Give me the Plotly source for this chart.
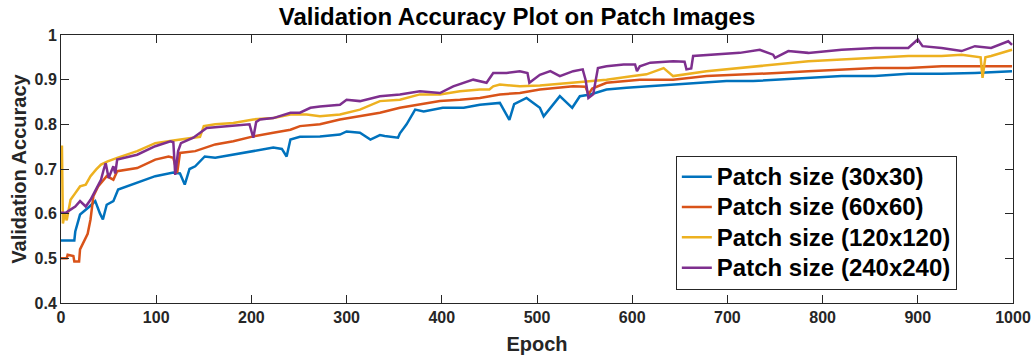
import plotly.graph_objects as go

# ---- data ----
names = ["Patch size (30x30)", "Patch size (60x60)", "Patch size (120x120)", "Patch size (240x240)"]
colors = ["#0072BD", "#D95319", "#EDB120", "#7E2F8E"]

ep_30 = [0, 14, 15, 20, 30, 36, 41, 44, 48, 55, 60, 80, 99, 118, 125, 130, 135, 141, 151, 162, 181, 202, 223, 232, 237,
         241, 251, 272, 293, 300, 314, 325, 335, 340, 354, 356, 363, 372, 381, 401, 423, 440, 461, 471, 476, 489, 503, 507,
         524, 537, 545, 556, 573, 594, 615, 643, 671, 699, 727, 752, 785, 820, 855, 890, 925, 960, 999]
acc_30 = [0.540, 0.540, 0.560, 0.598, 0.616, 0.628, 0.600, 0.587, 0.620, 0.628, 0.654, 0.669, 0.684, 0.692, 0.690, 0.665,
          0.700, 0.706, 0.728, 0.725, 0.732, 0.740, 0.748, 0.745, 0.728, 0.766, 0.772, 0.773, 0.777, 0.784, 0.781, 0.766,
          0.776, 0.774, 0.770, 0.780, 0.800, 0.833, 0.829, 0.837, 0.837, 0.844, 0.848, 0.810, 0.845, 0.859, 0.837, 0.818,
          0.863, 0.837, 0.863, 0.867, 0.878, 0.882, 0.885, 0.889, 0.893, 0.897, 0.897, 0.900, 0.904, 0.908, 0.908, 0.913,
          0.913, 0.915, 0.919]

ep_60 = [0, 6, 7, 13, 14, 19, 20, 25, 28, 31, 34, 39, 45, 48, 55, 59, 80, 99, 113, 118, 122, 125, 141, 162, 181, 202, 223,
         241, 251, 272, 293, 314, 335, 356, 377, 398, 419, 440, 461, 482, 503, 538, 551, 554, 558, 573, 608, 643, 678, 713,
         752, 785, 820, 855, 890, 925, 960, 999]
acc_60 = [0.500, 0.500, 0.508, 0.505, 0.493, 0.493, 0.520, 0.542, 0.555, 0.587, 0.639, 0.661, 0.676, 0.684, 0.676, 0.695,
          0.702, 0.721, 0.728, 0.725, 0.691, 0.736, 0.740, 0.755, 0.762, 0.773, 0.781, 0.788, 0.796, 0.800, 0.811, 0.818,
          0.826, 0.837, 0.844, 0.852, 0.855, 0.859, 0.867, 0.870, 0.878, 0.885, 0.884, 0.867, 0.880, 0.893, 0.900, 0.900,
          0.908, 0.911, 0.915, 0.919, 0.923, 0.926, 0.926, 0.930, 0.930, 0.930]

ep_120 = [0, 1, 2, 4, 6, 10, 15, 20, 26, 31, 37, 42, 49, 59, 80, 99, 118, 139, 146, 150, 162, 181, 202, 223, 241, 258, 272,
          293, 314, 335, 356, 377, 398, 419, 440, 450, 454, 461, 482, 503, 538, 573, 601, 615, 633, 643, 678, 713, 752, 785,
          820, 855, 890, 925, 946, 966, 968, 971, 977, 999]
acc_120 = [0.750, 0.750, 0.578, 0.600, 0.585, 0.631, 0.646, 0.661, 0.665, 0.684, 0.699, 0.710, 0.717, 0.725, 0.740, 0.758,
           0.764, 0.770, 0.772, 0.796, 0.800, 0.803, 0.811, 0.814, 0.822, 0.822, 0.818, 0.822, 0.833, 0.852, 0.855, 0.867,
           0.867, 0.874, 0.878, 0.878, 0.885, 0.889, 0.885, 0.887, 0.893, 0.900, 0.908, 0.912, 0.926, 0.908, 0.919, 0.926,
           0.933, 0.941, 0.945, 0.949, 0.953, 0.953, 0.956, 0.950, 0.904, 0.950, 0.953, 0.967]

ep_240 = [0, 5, 10, 15, 20, 26, 31, 37, 42, 45, 47, 50, 52, 55, 57, 59, 80, 99, 115, 118, 120, 123, 126, 139, 153, 181, 198,
          202, 205, 209, 223, 241, 251, 262, 272, 293, 300, 314, 335, 356, 377, 398, 412, 433, 447, 454, 468, 482, 490, 492,
          503, 514, 524, 538, 548, 551, 554, 559, 562, 564, 573, 591, 603, 605, 608, 619, 643, 655, 657, 662, 664, 685, 713,
          734, 748, 750, 764, 785, 820, 855, 890, 900, 905, 925, 946, 960, 977, 995, 999]
acc_240 = [0.602, 0.602, 0.609, 0.616, 0.628, 0.616, 0.631, 0.654, 0.676, 0.700, 0.713, 0.680, 0.691, 0.706, 0.690, 0.721,
           0.732, 0.751, 0.762, 0.760, 0.687, 0.740, 0.758, 0.770, 0.792, 0.796, 0.800, 0.770, 0.805, 0.811, 0.814, 0.826,
           0.826, 0.837, 0.840, 0.844, 0.855, 0.852, 0.863, 0.867, 0.874, 0.870, 0.885, 0.900, 0.893, 0.915, 0.915, 0.919,
           0.915, 0.893, 0.911, 0.919, 0.908, 0.919, 0.923, 0.900, 0.859, 0.867, 0.900, 0.926, 0.930, 0.934, 0.934, 0.919,
           0.930, 0.938, 0.941, 0.940, 0.923, 0.925, 0.953, 0.956, 0.960, 0.967, 0.956, 0.949, 0.964, 0.960, 0.967, 0.971,
           0.971, 0.990, 0.975, 0.971, 0.964, 0.975, 0.971, 0.986, 0.978]

x_ticks = [0, 100, 200, 300, 400, 500, 600, 700, 800, 900, 1000]
y_ticks = [0.4, 0.5, 0.6, 0.7, 0.8, 0.9, 1.0]
y_tick_text = ["0.4", "0.5", "0.6", "0.7", "0.8", "0.9", "1"]

series_x = [ep_30, ep_60, ep_120, ep_240]
series_y = [acc_30, acc_60, acc_120, acc_240]

fig = go.Figure()
for nm, c, xs, ys in zip(names, colors, series_x, series_y):
    fig.add_trace(go.Scatter(x=xs, y=ys, mode="lines",
                             name='<span style="font-size:24px">' + nm + "</span>",
                             line=dict(color=c, width=2.5)))

axis_col = "#262626"
fig.update_layout(
    width=1034, height=358,
    margin=dict(l=61, r=21, t=35, b=55),
    paper_bgcolor="white", plot_bgcolor="white",
    font=dict(family="Arial", color=axis_col),
    title=dict(text="<b>Validation Accuracy Plot on Patch Images</b>",
               font=dict(family="Arial", size=24, color="black"),
               x=0.5, xanchor="center", y=1 - 17 / 358, yanchor="middle"),
    legend=dict(x=0.941, xanchor="right", y=0.05, yanchor="bottom",
                bgcolor="white", bordercolor="#262626", borderwidth=1,
                font=dict(family="Arial", size=21, color="black", weight="bold"),
                tracegroupgap=0, itemwidth=30),
    showlegend=True,
)
fig.update_xaxes(range=[0, 1000], tickvals=x_ticks, ticks="inside", ticklen=8, tickwidth=1,
                 tickcolor=axis_col, showline=True, linecolor=axis_col, linewidth=1, mirror="allticks",
                 showgrid=False, zeroline=False, automargin=False,
                 tickfont=dict(family="Arial", size=16, color=axis_col, weight="bold"),
                 title=dict(text="<b>Epoch</b>", font=dict(family="Arial", size=20, color=axis_col), standoff=11))
fig.update_yaxes(range=[0.4, 1.0], tickvals=y_ticks, ticktext=y_tick_text, ticks="inside", ticklen=8, tickwidth=1,
                 tickcolor=axis_col, showline=True, linecolor=axis_col, linewidth=1, mirror="allticks",
                 showgrid=False, zeroline=False, automargin=False,
                 tickfont=dict(family="Arial", size=16, color=axis_col, weight="bold"),
                 title=dict(text="<b>Validation Accuracy</b>", font=dict(family="Arial", size=20, color=axis_col), standoff=2))

fig.write_html("out.html", config={"displayModeBar": False},
               post_script="document.body.style.margin='0';document.body.style.overflow='hidden';")
